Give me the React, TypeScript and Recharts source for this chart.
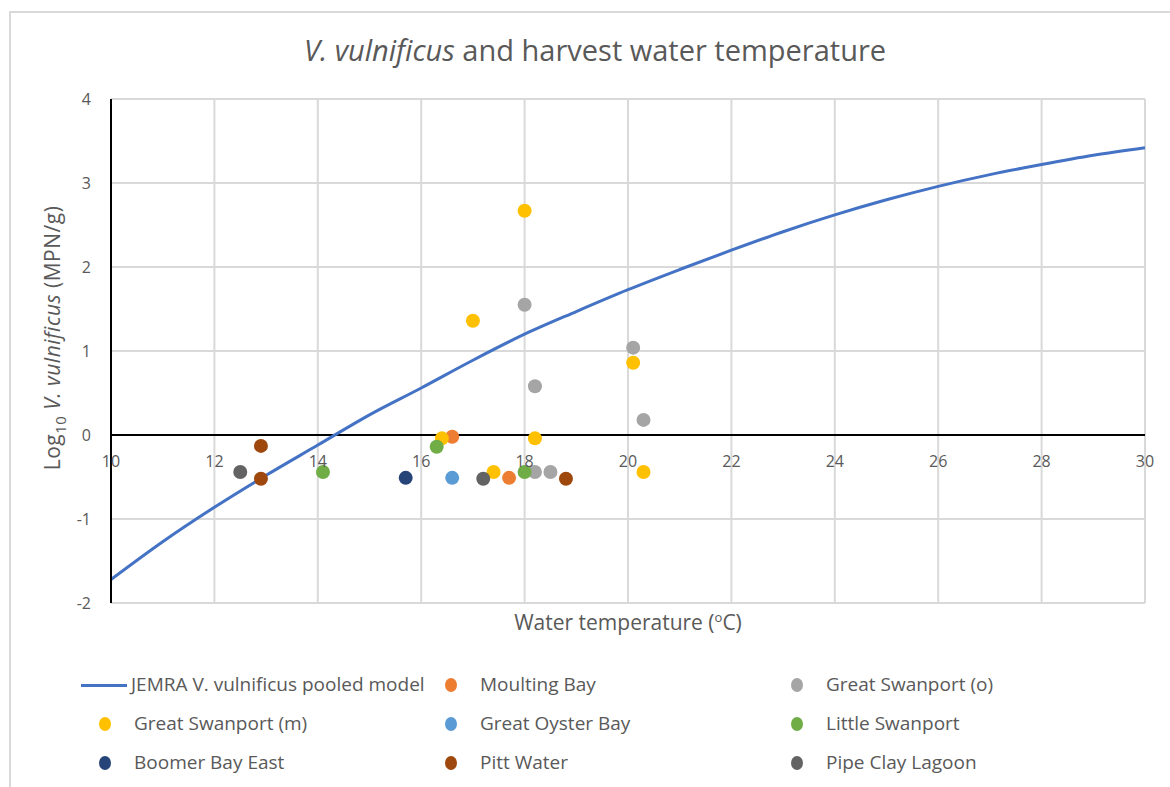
import { ComposedChart, Line, Scatter, XAxis, YAxis, CartesianGrid, ReferenceLine } from 'recharts'

const FONT = '"Open Sans", Lato, sans-serif'
const TXT = '#595959'

// JEMRA pooled model curve (log10 MPN/g vs water temperature)
const modelTemp = [10, 11, 12, 13, 14, 15, 16, 17, 18, 19, 20, 21, 22, 23, 24, 25, 26, 27, 28, 29, 30]
const modelLog = [-1.72, -1.27, -0.86, -0.48, -0.12, 0.24, 0.56, 0.89, 1.2, 1.47, 1.73, 1.97, 2.2, 2.42, 2.62, 2.8, 2.96, 3.1, 3.22, 3.33, 3.42]

// harvest sites
const moultingT = [16.6, 17.7]
const moultingV = [-0.02, -0.51]
const gsoT = [18.0, 20.1, 18.2, 20.3, 18.2, 18.5]
const gsoV = [1.55, 1.04, 0.58, 0.18, -0.44, -0.44]
const gsmT = [18.0, 17.0, 20.1, 16.4, 18.2, 17.4, 20.3]
const gsmV = [2.67, 1.36, 0.86, -0.04, -0.04, -0.44, -0.44]
const oysterT = [16.6]
const oysterV = [-0.51]
const littleT = [16.3, 14.1, 18.0]
const littleV = [-0.14, -0.44, -0.44]
const boomerT = [15.7]
const boomerV = [-0.51]
const pittT = [12.9, 12.9, 18.8]
const pittV = [-0.13, -0.52, -0.52]
const pipeT = [12.5, 17.2]
const pipeV = [-0.44, -0.52]

const xTicks = [10, 12, 14, 16, 18, 20, 22, 24, 26, 28, 30]
const yTicks = [-2, -1, 0, 1, 2, 3, 4]

const toPts = (t: number[], v: number[]) => t.map((x, i) => ({ x, y: v[i] }))

const sites = [
  { name: 'Moulting Bay', color: '#ED7D31', data: toPts(moultingT, moultingV) },
  { name: 'Great Swanport (o)', color: '#A5A5A5', data: toPts(gsoT, gsoV) },
  { name: 'Great Swanport (m)', color: '#FFC000', data: toPts(gsmT, gsmV) },
  { name: 'Great Oyster Bay', color: '#5B9BD5', data: toPts(oysterT, oysterV) },
  { name: 'Little Swanport', color: '#70AD47', data: toPts(littleT, littleV) },
  { name: 'Boomer Bay East', color: '#264478', data: toPts(boomerT, boomerV) },
  { name: 'Pitt Water', color: '#9E480E', data: toPts(pittT, pittV) },
  { name: 'Pipe Clay Lagoon', color: '#636363', data: toPts(pipeT, pipeV) },
]

const modelData = toPts(modelTemp, modelLog)

const W = 1170
const H = 787
const margin = { top: 99, right: 25, bottom: 154, left: 51 }
const X_AXIS_H = 30
const plotH = H - margin.top - margin.bottom - X_AXIS_H

// x tick labels sit just under the y=0 line
const XTick = (props: any) => {
  const { x, payload } = props
  const zeroY = margin.top + (plotH * (4 - 0)) / 6
  return (
    <text x={x} y={zeroY + 32} textAnchor="middle" fill={TXT} fontSize={16} fontFamily={FONT}>
      {payload.value}
    </text>
  )
}

const dot = (color: string) => (p: any) => <circle cx={p.cx} cy={p.cy} r={7} fill={color} />

const legendRows = [
  [null, sites[0], sites[1]],
  [sites[2], sites[3], sites[4]],
  [sites[5], sites[6], sites[7]],
]
const colX = [105, 451, 797]
const rowY = [685, 724, 763]

export default function App() {
  return (
    <div style={{ position: 'absolute', left: 0, top: 0, width: W, height: H, background: '#fff', overflow: 'hidden', fontFamily: FONT }}>
      <div style={{ position: 'absolute', left: 9, top: 11, width: W, height: H, border: '2px solid #D9D9D9' }} />
      <div style={{ position: 'absolute', left: 10, top: 30, width: W, textAlign: 'center', fontSize: 29, color: TXT, lineHeight: '40px' }}>
        <i>V. vulnificus</i> and harvest water temperature
      </div>
      <div style={{ position: 'absolute', left: 0, top: 0 }}>
        <ComposedChart width={W} height={H} margin={margin}>
          <CartesianGrid stroke="#D9D9D9" strokeWidth={2} />
          <XAxis
            type="number"
            dataKey="x"
            domain={[10, 30]}
            ticks={xTicks}
            height={X_AXIS_H}
            axisLine={false}
            tickLine={false}
            tick={<XTick />}
          />
          <YAxis
            type="number"
            domain={[-2, 4]}
            ticks={yTicks}
            width={60}
            axisLine={{ stroke: '#000', strokeWidth: 2 }}
            tickLine={false}
            tickSize={0}
            tickMargin={20}
            tick={{ fill: TXT, fontSize: 16, fontFamily: FONT }}
          />
          <ReferenceLine y={0} stroke="#000" strokeWidth={2} />
          <Line
            data={modelData}
            dataKey="y"
            type="monotone"
            stroke="#4472C4"
            strokeWidth={3}
            dot={false}
            isAnimationActive={false}
          />
          {sites.map((s) => (
            <Scatter key={s.name} data={s.data} dataKey="y" fill={s.color} shape={dot(s.color)} isAnimationActive={false} />
          ))}
        </ComposedChart>
      </div>
      {/* axis titles */}
      <div style={{ position: 'absolute', left: 111, width: 1034, top: 603, textAlign: 'center', fontSize: 21, color: TXT, lineHeight: '28px' }}>
        Water temperature (<sup style={{ fontSize: 13 }}>o</sup>C)
      </div>
      <div
        style={{
          position: 'absolute',
          left: 56,
          top: 338,
          transform: 'translate(-50%, -50%) rotate(-90deg)',
          fontSize: 21,
          letterSpacing: 0.5,
          color: TXT,
          whiteSpace: 'nowrap',
          lineHeight: '28px',
        }}
      >
        Log<sub style={{ fontSize: 15 }}>10</sub> <i>V. vulnificus</i> (MPN/g)
      </div>
      {legendRows.map((row, ri) =>
        row.map((s, ci) => {
          const y = rowY[ri]
          if (!s) {
            return (
              <div key={`l${ri}${ci}`}>
                <div style={{ position: 'absolute', left: 81, top: y - 1.5, width: 46, height: 3, background: '#4472C4' }} />
                <div style={{ position: 'absolute', left: 131, top: y - 14, fontSize: 19, lineHeight: '26px', color: TXT, whiteSpace: 'nowrap' }}>
                  JEMRA V. vulnificus pooled model
                </div>
              </div>
            )
          }
          const x = colX[ci]
          return (
            <div key={`l${ri}${ci}`}>
              <div style={{ position: 'absolute', left: x - 6, top: y - 7, width: 12, height: 14, borderRadius: '50%', background: s.color }} />
              <div style={{ position: 'absolute', left: x + 29, top: y - 14, fontSize: 19, lineHeight: '26px', color: TXT, whiteSpace: 'nowrap' }}>
                {s.name}
              </div>
            </div>
          )
        })
      )}
    </div>
  )
}
